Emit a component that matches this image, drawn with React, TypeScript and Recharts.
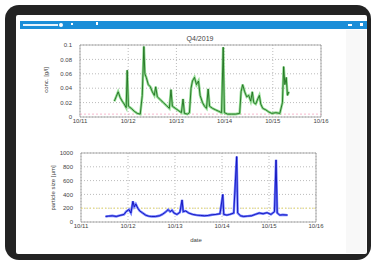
import React from 'react';
import {
  LineChart,
  Line,
  XAxis,
  YAxis,
  CartesianGrid,
  ReferenceArea,
  ReferenceLine,
} from 'recharts';

// hours since 10/11 00:00
const concHours = [
  17.1, 18, 19, 20, 21, 22, 23, 23.5, 24.1, 25.5, 27, 28.5, 30, 31, 31.8, 32.3, 33, 34, 35, 36,
  37, 37.7, 38.5, 40, 41.5, 43, 44.5, 45.3, 46, 47.5, 49, 50.5, 51.3, 52, 53.5, 54.5, 55.3, 56,
  57, 58, 59, 59.8, 61, 62, 63, 63.8, 64.5, 66, 67.5, 69, 70.5, 71.3, 71.9, 73.5, 75.5, 77.5,
  79.5, 80.2, 81, 82, 83, 84, 85, 85.8, 86.5, 87.5, 88.5, 89.3, 90, 91, 92.5, 94, 95.5, 97.5,
  99.5, 100.8, 101.4, 102, 102.7, 103.3, 104,
];
const concValues = [
  0.022, 0.028, 0.035, 0.027, 0.022, 0.018, 0.013, 0.065, 0.015, 0.012, 0.008, 0.005, 0.004,
  0.03, 0.098, 0.06, 0.055, 0.045, 0.042, 0.035, 0.03, 0.042, 0.028, 0.024, 0.02, 0.016, 0.012,
  0.038, 0.015, 0.012, 0.009, 0.006, 0.025, 0.005, 0.004, 0.006, 0.04, 0.05, 0.055, 0.045, 0.05,
  0.03, 0.02, 0.015, 0.012, 0.039, 0.015, 0.012, 0.01, 0.008, 0.006, 0.097, 0.006, 0.004, 0.004,
  0.004, 0.005, 0.035, 0.045, 0.035, 0.028, 0.03, 0.022, 0.035, 0.02, 0.018, 0.025, 0.03, 0.018,
  0.012, 0.01, 0.007, 0.005, 0.006, 0.005, 0.02, 0.07, 0.045, 0.055, 0.03, 0.035,
];

const sizeHours = [
  12.5, 14, 16, 18, 20, 22, 23, 24.5, 25.5, 26.5, 27.2, 28, 29, 30, 31.5, 33, 34.5, 36, 38, 40,
  41.5, 43, 44.5, 45.5, 46.5, 47.5, 49, 50.5, 51.6, 52.2, 53.5, 55, 57, 59, 61, 63, 65, 67, 69,
  71, 72.4, 72.9, 74.5, 76, 78, 79.5, 80, 81.5, 83, 85, 87, 89, 91, 93, 95, 97, 98.8, 99.6, 100.2,
  101.5, 103, 105.5,
];
const sizeValues = [
  80, 85, 90, 80, 95, 110, 150, 180, 130, 300, 220, 260, 200, 160, 130, 100, 85, 80, 80, 90, 110,
  140, 180, 150, 170, 130, 110, 140, 320, 150, 160, 130, 110, 100, 95, 90, 95, 105, 110, 120, 400,
  110, 100, 110, 130, 950, 130, 90, 80, 85, 90, 110, 130, 120, 135, 110, 150, 900, 130, 100, 105,
  100,
];

const dayTicks = [0, 24, 48, 72, 96, 120];
const dayLabels = ['10/11', '10/12', '10/13', '10/14', '10/15', '10/16'];
const concTicks = [0, 0.02, 0.04, 0.06, 0.08, 0.1];
const sizeTicks = [0, 200, 400, 600, 800, 1000];
const concLimit = 0.004;
const sizeLimit = 200;

const concData = concHours.map((t, i) => ({ t, v: concValues[i] }));
const sizeData = sizeHours.map((t, i) => ({ t, v: sizeValues[i] }));

const font = '"Liberation Sans", Arial, sans-serif';
const tickStyle = { fontSize: 6, fill: '#444', fontFamily: font };
const dayFmt = (v: number) => dayLabels[dayTicks.indexOf(v)] ?? '';

const abs = (l: number, t: number, w: number, h: number, extra = {}) => ({
  position: 'absolute' as const,
  left: l,
  top: t,
  width: w,
  height: h,
  ...extra,
});

const vLabel = (x: number, y: number) => ({
  position: 'absolute' as const,
  left: x,
  top: y,
  transform: 'translate(-50%, -50%) rotate(-90deg)',
  whiteSpace: 'nowrap' as const,
  fontSize: 6,
  color: '#444',
  fontFamily: font,
});

export default function App() {
  return (
    <div style={abs(0, 0, 375, 262, { background: '#fff', overflow: 'hidden' })}>
      <div style={abs(5, 5, 366, 255, { background: '#232323', borderRadius: 14 })} />
      <div style={abs(16, 15, 351, 239, { background: '#fff', borderRadius: 2 })} />
      <div style={abs(346, 30, 20, 223, { background: '#f8f8f8' })} />

      {/* window title bar */}
      <div style={abs(20, 21, 347, 8, { background: '#1b8ed8' })} />
      <div style={abs(23, 24, 35, 1.5, { background: '#e8f3fb' })} />
      <div style={abs(59, 23, 4, 4, { background: '#fff', borderRadius: 2 })} />
      <div style={abs(71, 23, 2, 2, { background: '#fff' })} />
      <div style={abs(96, 22, 2, 3, { background: '#fff' })} />
      <div style={abs(348, 24, 4, 2, { background: '#fff' })} />
      <div style={abs(360, 23, 3, 3, { background: '#fff' })} />

      <div
        style={{
          position: 'absolute',
          left: 200,
          top: 38,
          transform: 'translate(-50%, -50%)',
          fontSize: 7,
          color: '#444',
          fontFamily: font,
        }}
      >
        Q4/2019
      </div>
      <div style={vLabel(46, 80)}>conc. [g/l]</div>
      <div style={vLabel(53, 188)}>particle size [µm]</div>
      <div
        style={{
          position: 'absolute',
          left: 196,
          top: 240,
          transform: 'translate(-50%, -50%)',
          fontSize: 6,
          color: '#444',
          fontFamily: font,
        }}
      >
        date
      </div>

      <div style={abs(40, 30, 300, 100)}>
        <LineChart
          width={300}
          height={100}
          data={concData}
          margin={{ top: 15, right: 19, left: 0, bottom: 1 }}
        >
          <CartesianGrid stroke="#bbb" strokeDasharray="1 2" />
          <XAxis
            dataKey="t"
            type="number"
            domain={[0, 120]}
            ticks={dayTicks}
            tickFormatter={dayFmt}
            tick={tickStyle}
            height={12}
            axisLine={false}
            tickLine={false}
            tickMargin={-4}
            interval={0}
          />
          <YAxis
            type="number"
            domain={[0, 0.1]}
            ticks={concTicks}
            tickFormatter={(v: number) => String(+v.toFixed(2))}
            tick={tickStyle}
            width={40}
            axisLine={false}
            tickLine={false}
            interval={0}
          />
          <ReferenceArea x1={0} x2={120} y1={0} y2={0.1} fill="none" stroke="#999" strokeWidth={0.8} />
          <ReferenceLine y={concLimit} stroke="#f2a6c0" strokeDasharray="2 2" strokeWidth={0.8} />
          <Line
            key="band"
            dataKey="v"
            type="linear"
            stroke="#93dd93"
            strokeWidth={2.6}
            dot={false}
            isAnimationActive={false}
          />
          <Line
            key="line"
            dataKey="v"
            type="linear"
            stroke="#1e6e1e"
            strokeWidth={0.9}
            dot={false}
            isAnimationActive={false}
          />
        </LineChart>
      </div>

      <div style={abs(40, 140, 300, 100)}>
        <LineChart
          width={300}
          height={100}
          data={sizeData}
          margin={{ top: 13, right: 24, left: 0, bottom: 6 }}
        >
          <CartesianGrid stroke="#bbb" strokeDasharray="1 2" />
          <XAxis
            dataKey="t"
            type="number"
            domain={[0, 120]}
            ticks={dayTicks}
            tickFormatter={dayFmt}
            tick={tickStyle}
            height={12}
            axisLine={false}
            tickLine={false}
            tickMargin={-4}
            interval={0}
          />
          <YAxis
            type="number"
            domain={[0, 1000]}
            ticks={sizeTicks}
            tick={tickStyle}
            width={41}
            axisLine={false}
            tickLine={false}
            interval={0}
          />
          <ReferenceArea x1={0} x2={120} y1={0} y2={1000} fill="none" stroke="#999" strokeWidth={0.8} />
          <ReferenceLine y={sizeLimit} stroke="#eee070" strokeDasharray="2 2" strokeWidth={0.8} />
          <Line
            key="band"
            dataKey="v"
            type="linear"
            stroke="#6f7dff"
            strokeWidth={2.4}
            dot={false}
            isAnimationActive={false}
          />
          <Line
            key="line"
            dataKey="v"
            type="linear"
            stroke="#1010b8"
            strokeWidth={0.9}
            dot={false}
            isAnimationActive={false}
          />
        </LineChart>
      </div>
    </div>
  );
}
